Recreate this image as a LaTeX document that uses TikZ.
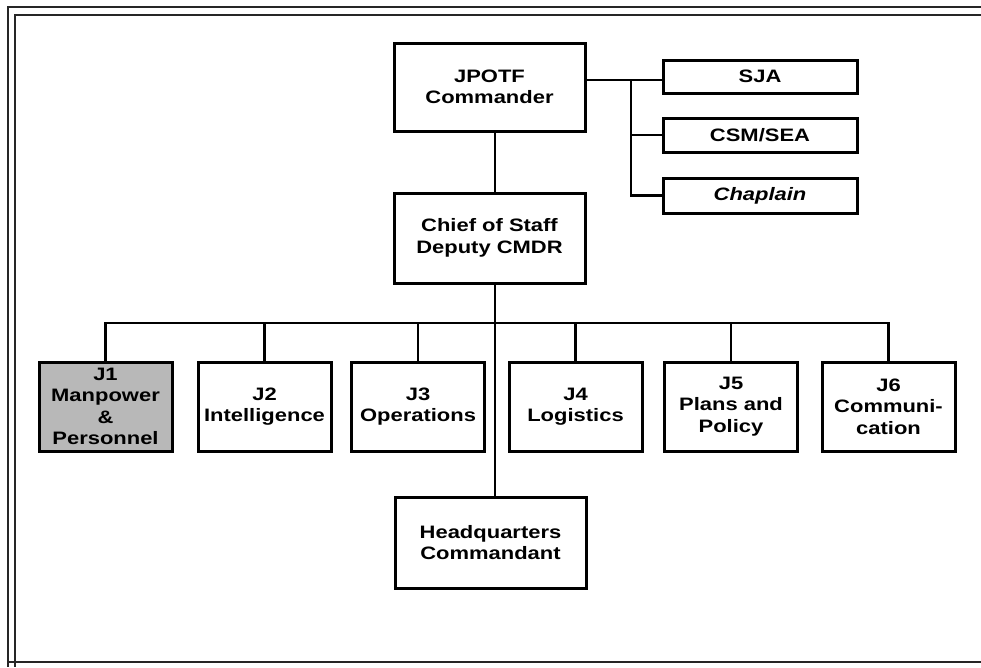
\documentclass[tikz,border=0pt]{standalone}
\usepackage{fontspec}
\newfontfamily\lab{Liberation Sans}[FakeStretch=1.22]
\definecolor{jgray}{RGB}{184,184,184}
\begin{document}
\begin{tikzpicture}[x=1pt,y=-1pt,
  box/.style={draw=black,line width=3pt,fill=white,inner sep=0pt,align=center,
    font=\lab\bfseries\fontsize{18}{21.5}\selectfont},
  conn/.style={draw=black,line width=2.8pt},
  frm/.style={draw=black!85,line width=1.8pt}]
\useasboundingbox (0,0) rectangle (981,667);
\fill[white] (0,0) rectangle (981,667);
% frame
\draw[frm] (981,7) -- (8,7) -- (8,667);
\draw[frm] (981,15) -- (15,15) -- (15,667);
\draw[frm] (8,662) -- (981,662);
% nodes
\node[box,minimum width=191pt,minimum height=88pt] (cmdr) at (489.5,87) {JPOTF\\Commander};
\node[box,minimum width=191pt,minimum height=90pt] (cos) at (489.5,238) {Chief of Staff\\Deputy CMDR};
\node[box,minimum width=194pt,minimum height=33pt] (sja) at (760,76.5) {SJA};
\node[box,minimum width=194pt,minimum height=34pt] (csm) at (760,135) {CSM/SEA};
\node[box,minimum width=194pt,minimum height=35pt] (chap) at (760,195.5) {\itshape Chaplain};
\node[box,minimum width=133pt,minimum height=89pt,fill=jgray] (j1) at (105.5,406.5) {J1\\Manpower\\\&\\Personnel};
\node[box,minimum width=133pt,minimum height=89pt] (j2) at (264.5,406.5) {J2\\Intelligence};
\node[box,minimum width=133pt,minimum height=89pt] (j3) at (418,406.5) {J3\\Operations};
\node[box,minimum width=133pt,minimum height=89pt] (j4) at (575.5,406.5) {J4\\Logistics};
\node[box,minimum width=133pt,minimum height=89pt] (j5) at (731,406.5) {J5\\Plans and\\Policy};
\node[box,minimum width=133pt,minimum height=89pt] (j6) at (888.5,406.5) {J6\\Communi-\\cation};
\node[box,minimum width=191pt,minimum height=91pt] (hq) at (490.5,542.5) {Headquarters\\Commandant};
% connectors
\coordinate (bus) at (495,323);
\coordinate (spine) at (631,80);
\draw[conn] ([xshift=5.5pt]cmdr.south) -- ([xshift=5.5pt]cos.north);
\draw[conn] ([xshift=5.5pt]cos.south) -- ([xshift=4.5pt]hq.north);
\draw[conn] (cmdr.east |- spine) -- (spine) -- (sja.west |- spine);
\draw[conn] (spine) -- (spine |- chap.west) -- (chap.west);
\draw[conn] (spine |- csm.west) -- (csm.west);
\draw[conn] (j1.north) -- (j1.north |- bus) -- (j6.north |- bus) -- (j6.north);
\draw[conn] (j2.north) -- (j2.north |- bus);
\draw[conn] (j3.north) -- (j3.north |- bus);
\draw[conn] (j4.north) -- (j4.north |- bus);
\draw[conn] (j5.north) -- (j5.north |- bus);
\end{tikzpicture}
\end{document}
